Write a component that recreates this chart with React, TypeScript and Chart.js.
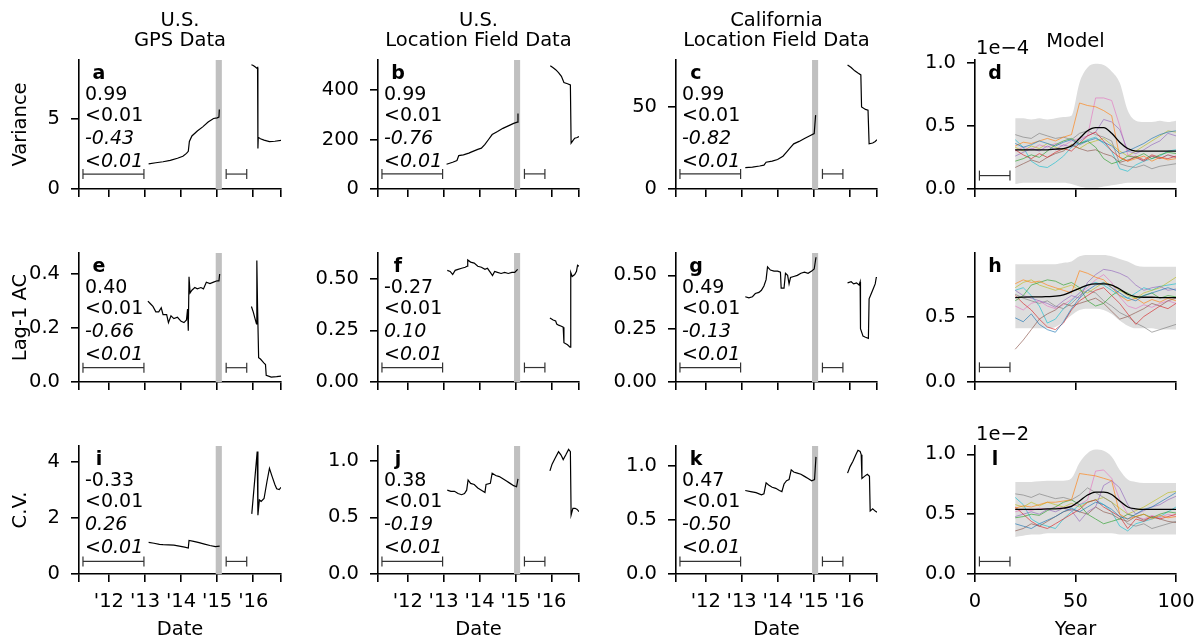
import React, { useEffect, useRef } from 'react';
import { Chart, registerables } from 'chart.js';

Chart.register(...registerables);

type Pt = [number, number];

const FONT = '"DejaVu Sans", "Noto Sans", sans-serif';
const FS = 19.5;
const FS_ANN = 19;

// ---------- ticks ----------
const dateTicks = [2011.17, 2012, 2013, 2014, 2015, 2016, 2016.77];
const dateTickLabels = ['', "'12", "'13", "'14", "'15", "'16", ''];
const modelTicks = [0, 50, 100];
const modelTickLabels = ['0', '50', '100'];

// ---------- texts ----------
const columnTitles = [['U.S.', 'GPS Data'], ['U.S.', 'Location Field Data'], ['California', 'Location Field Data'], ['Model']];
const rowTitles = ['Variance', 'Lag-1 AC', 'C.V.'];
const xTitles = ['Date', 'Date', 'Date', 'Year'];
const panelLetters = ['a', 'b', 'c', 'd', 'e', 'f', 'g', 'h', 'i', 'j', 'k', 'l'];
const statsA = ['0.99', '<0.01', '-0.43', '<0.01'];
const statsB = ['0.99', '<0.01', '-0.76', '<0.01'];
const statsC = ['0.99', '<0.01', '-0.82', '<0.01'];
const statsE = ['0.40', '<0.01', '-0.66', '<0.01'];
const statsF = ['-0.27', '<0.01', '0.10', '<0.01'];
const statsG = ['0.49', '<0.01', '-0.13', '<0.01'];
const statsI = ['-0.33', '<0.01', '0.26', '<0.01'];
const statsJ = ['0.38', '<0.01', '-0.19', '<0.01'];
const statsK = ['0.47', '<0.01', '-0.50', '<0.01'];

// ---------- windows ----------
const shadeYears = [2014.96, 2015.13];
const longWindow = [2011.28, 2012.97];
const shortWindow = [2015.25, 2015.82];
const modelWindow = [2.2, 17.4];

// ---------- y axes ----------
const yMaxes = [9.24, 521, 78.6, 1.02, 0.478, 0.624, 0.605, 0.985, 4.58, 1.13, 1.18, 1.07];
const yTickSets = [[0, 5], [0, 200, 400], [0, 50], [0, 0.5, 1.0], [0, 0.2, 0.4], [0, 0.25, 0.5], [0, 0.25, 0.5], [0, 0.5], [0, 2, 4], [0, 0.5, 1.0], [0, 0.5, 1.0], [0, 0.5, 1.0]];
const yTickLabelSets = [['0', '5'], ['0', '200', '400'], ['0', '50'], ['0.0', '0.5', '1.0'], ['0.0', '0.2', '0.4'], ['0.00', '0.25', '0.50'], ['0.00', '0.25', '0.50'], ['0.0', '0.5'], ['0', '2', '4'], ['0.0', '0.5', '1.0'], ['0.0', '0.5', '1.0'], ['0.0', '0.5', '1.0']];
const barLevels = [1.07, 61, 9.2, 0.106, 0.053, 0.07, 0.0675, 0.112, 0.45, 0.111, 0.116, 0.105];

// ---------- date series ----------
const varGps1: Pt[] = [[2013.1, 1.8], [2013.3, 1.88], [2013.5, 1.95], [2013.7, 2.05], [2013.9, 2.2], [2014.05, 2.35], [2014.15, 2.55], [2014.2, 2.7], [2014.23, 3.4], [2014.3, 3.8], [2014.45, 4.15], [2014.6, 4.45], [2014.75, 4.8], [2014.9, 5.05], [2015.0, 5.1], [2015.05, 5.15], [2015.06, 5.7]];
const varGps2: Pt[] = [[2015.95, 8.9], [2016.0, 8.85], [2016.05, 8.75], [2016.1, 8.65], [2016.12, 8.7], [2016.13, 2.9], [2016.14, 3.7], [2016.2, 3.6], [2016.3, 3.5], [2016.45, 3.4], [2016.6, 3.42], [2016.77, 3.48]];
const varUs1: Pt[] = [[2013.08, 100], [2013.25, 108], [2013.37, 115], [2013.42, 135], [2013.55, 138], [2013.7, 145], [2013.78, 150], [2013.95, 160], [2014.05, 165], [2014.15, 180], [2014.25, 200], [2014.35, 220], [2014.5, 232], [2014.65, 245], [2014.8, 255], [2014.95, 265], [2015.05, 270], [2015.07, 305]];
const varUs2: Pt[] = [[2015.97, 498], [2016.05, 490], [2016.12, 482], [2016.2, 470], [2016.28, 455], [2016.35, 430], [2016.45, 425], [2016.53, 420], [2016.55, 185], [2016.6, 195], [2016.65, 205], [2016.72, 208], [2016.77, 212]];
const varCa1: Pt[] = [[2013.1, 13], [2013.3, 13.3], [2013.5, 14], [2013.62, 14.5], [2013.68, 16.3], [2013.85, 17], [2014.0, 18], [2014.15, 20], [2014.25, 22.5], [2014.35, 25], [2014.45, 27.5], [2014.6, 29], [2014.75, 30.8], [2014.9, 32.5], [2015.02, 33.8], [2015.06, 45]];
const varCa2: Pt[] = [[2015.95, 75.5], [2016.05, 74], [2016.15, 72], [2016.25, 70.5], [2016.32, 69.5], [2016.34, 50], [2016.45, 48.5], [2016.52, 48], [2016.55, 27.5], [2016.65, 28], [2016.72, 29], [2016.77, 30]];

const acGps1: Pt[] = [[2013.08, 0.3], [2013.15, 0.29], [2013.22, 0.28], [2013.3, 0.26], [2013.38, 0.26], [2013.45, 0.275], [2013.5, 0.25], [2013.6, 0.25], [2013.65, 0.22], [2013.72, 0.245], [2013.8, 0.235], [2013.9, 0.24], [2014.0, 0.225], [2014.08, 0.22], [2014.15, 0.23], [2014.18, 0.27], [2014.2, 0.19], [2014.22, 0.39], [2014.25, 0.33], [2014.3, 0.34], [2014.38, 0.35], [2014.45, 0.345], [2014.55, 0.35], [2014.62, 0.345], [2014.7, 0.37], [2014.8, 0.365], [2014.9, 0.37], [2015.0, 0.375], [2015.05, 0.375], [2015.07, 0.4]];
const acGps2: Pt[] = [[2015.95, 0.28], [2016.0, 0.26], [2016.05, 0.235], [2016.09, 0.215], [2016.1, 0.45], [2016.12, 0.28], [2016.15, 0.09], [2016.2, 0.085], [2016.3, 0.07], [2016.34, 0.065], [2016.36, 0.025], [2016.5, 0.018], [2016.65, 0.02], [2016.77, 0.022]];
const acUs1: Pt[] = [[2013.1, 0.54], [2013.18, 0.535], [2013.25, 0.52], [2013.32, 0.54], [2013.4, 0.545], [2013.5, 0.55], [2013.6, 0.555], [2013.65, 0.56], [2013.67, 0.59], [2013.75, 0.58], [2013.85, 0.575], [2013.95, 0.56], [2014.05, 0.555], [2014.15, 0.545], [2014.22, 0.55], [2014.3, 0.53], [2014.36, 0.515], [2014.42, 0.535], [2014.5, 0.53], [2014.6, 0.525], [2014.7, 0.53], [2014.8, 0.525], [2014.9, 0.53], [2014.98, 0.53], [2015.06, 0.545]];
const acUs2: Pt[] = [[2015.96, 0.31], [2016.05, 0.3], [2016.12, 0.295], [2016.15, 0.28], [2016.2, 0.275], [2016.28, 0.27], [2016.33, 0.265], [2016.35, 0.19], [2016.45, 0.18], [2016.52, 0.168], [2016.54, 0.53], [2016.58, 0.51], [2016.65, 0.52], [2016.7, 0.535], [2016.73, 0.565], [2016.77, 0.56]];
const acCa1: Pt[] = [[2013.1, 0.4], [2013.2, 0.395], [2013.3, 0.4], [2013.38, 0.415], [2013.48, 0.42], [2013.55, 0.43], [2013.62, 0.45], [2013.68, 0.48], [2013.72, 0.54], [2013.8, 0.525], [2013.9, 0.52], [2014.0, 0.52], [2014.08, 0.515], [2014.1, 0.44], [2014.18, 0.44], [2014.22, 0.51], [2014.28, 0.5], [2014.32, 0.46], [2014.36, 0.49], [2014.45, 0.495], [2014.55, 0.5], [2014.65, 0.51], [2014.75, 0.515], [2014.85, 0.51], [2014.95, 0.52], [2015.02, 0.53], [2015.07, 0.585]];
const acCa2: Pt[] = [[2015.95, 0.465], [2016.05, 0.47], [2016.12, 0.46], [2016.2, 0.465], [2016.27, 0.455], [2016.3, 0.47], [2016.31, 0.25], [2016.38, 0.215], [2016.45, 0.21], [2016.53, 0.205], [2016.55, 0.39], [2016.6, 0.41], [2016.66, 0.435], [2016.72, 0.46], [2016.75, 0.49], [2016.77, 0.49]];

const cvGps1: Pt[] = [[2013.1, 1.13], [2013.25, 1.1], [2013.4, 1.06], [2013.5, 1.05], [2013.65, 1.04], [2013.8, 1.03], [2013.95, 1.0], [2014.1, 0.96], [2014.2, 0.93], [2014.22, 1.2], [2014.35, 1.17], [2014.5, 1.12], [2014.65, 1.07], [2014.8, 1.02], [2014.95, 0.98], [2015.07, 1.0]];
const cvGps2: Pt[] = [[2015.96, 2.15], [2016.11, 4.38], [2016.13, 2.1], [2016.17, 2.65], [2016.22, 2.6], [2016.3, 2.7], [2016.38, 3.3], [2016.45, 3.78], [2016.52, 3.5], [2016.6, 3.2], [2016.65, 3.05], [2016.72, 3.02], [2016.77, 3.1]];
const cvUs1: Pt[] = [[2013.1, 0.74], [2013.2, 0.73], [2013.3, 0.73], [2013.4, 0.71], [2013.5, 0.7], [2013.58, 0.71], [2013.64, 0.74], [2013.68, 0.83], [2013.75, 0.8], [2013.85, 0.79], [2013.95, 0.76], [2014.05, 0.74], [2014.15, 0.72], [2014.18, 0.79], [2014.3, 0.8], [2014.35, 0.89], [2014.45, 0.87], [2014.55, 0.86], [2014.65, 0.84], [2014.75, 0.82], [2014.85, 0.8], [2014.95, 0.78], [2015.03, 0.77], [2015.07, 0.84]];
const cvUs2: Pt[] = [[2015.96, 0.91], [2016.02, 0.97], [2016.1, 1.02], [2016.2, 1.08], [2016.27, 1.05], [2016.33, 1.01], [2016.4, 1.05], [2016.48, 1.1], [2016.53, 1.08], [2016.55, 0.52], [2016.6, 0.58], [2016.66, 0.58], [2016.72, 0.57], [2016.77, 0.55]];
const cvCa1: Pt[] = [[2013.1, 0.77], [2013.25, 0.76], [2013.4, 0.75], [2013.55, 0.73], [2013.62, 0.74], [2013.68, 0.84], [2013.75, 0.82], [2013.85, 0.8], [2013.95, 0.79], [2014.05, 0.77], [2014.12, 0.76], [2014.18, 0.83], [2014.25, 0.86], [2014.32, 0.87], [2014.38, 0.96], [2014.45, 0.94], [2014.55, 0.93], [2014.65, 0.92], [2014.75, 0.9], [2014.85, 0.88], [2014.95, 0.86], [2015.03, 0.87], [2015.07, 1.08]];
const cvCa2: Pt[] = [[2015.95, 0.93], [2016.02, 0.99], [2016.1, 1.04], [2016.18, 1.1], [2016.24, 1.14], [2016.3, 1.13], [2016.33, 1.1], [2016.35, 0.88], [2016.42, 0.9], [2016.5, 0.92], [2016.56, 0.9], [2016.58, 0.58], [2016.65, 0.6], [2016.72, 0.58], [2016.77, 0.57]];

// ---------- model series ----------
const modelYears = [20, 24, 28, 32, 36, 40, 44, 48, 52, 56, 60, 64, 68, 72, 76, 80, 84, 88, 92, 96, 100];
const runColors = ['#1f77b4', '#ff7f0e', '#2ca02c', '#d62728', '#9467bd', '#8c564b', '#e377c2', '#7f7f7f', '#bcbd22', '#17becf'];

const varBandLow = [0.04, 0.05, 0.05, 0.05, 0.05, 0.05, 0.05, 0.04, 0.02, 0.01, 0.01, 0.02, 0.03, 0.04, 0.05, 0.05, 0.05, 0.05, 0.05, 0.05, 0.05];
const varBandHigh = [0.56, 0.56, 0.55, 0.56, 0.55, 0.56, 0.57, 0.58, 0.84, 0.96, 0.99, 0.98, 0.93, 0.84, 0.62, 0.54, 0.53, 0.53, 0.54, 0.53, 0.54];
const varMean = [0.31, 0.31, 0.31, 0.31, 0.31, 0.315, 0.32, 0.34, 0.4, 0.46, 0.485, 0.485, 0.44, 0.37, 0.32, 0.3, 0.3, 0.3, 0.3, 0.3, 0.3];
const varRuns = [
  [0.36, 0.33, 0.35, 0.38, 0.36, 0.34, 0.37, 0.39, 0.35, 0.38, 0.4, 0.37, 0.34, 0.28, 0.3, 0.33, 0.36, 0.4, 0.43, 0.45, 0.46],
  [0.34, 0.37, 0.36, 0.38, 0.4, 0.38, 0.41, 0.43, 0.68, 0.66, 0.65, 0.62, 0.58, 0.25, 0.22, 0.24, 0.26, 0.22, 0.25, 0.23, 0.24],
  [0.22, 0.24, 0.27, 0.25, 0.3, 0.35, 0.38, 0.4, 0.36, 0.38, 0.33, 0.24, 0.2, 0.22, 0.26, 0.25, 0.28, 0.24, 0.27, 0.29, 0.28],
  [0.31, 0.27, 0.24, 0.28, 0.25, 0.29, 0.32, 0.3, 0.36, 0.42, 0.45, 0.38, 0.3, 0.25, 0.22, 0.26, 0.23, 0.27, 0.25, 0.24, 0.26],
  [0.26, 0.29, 0.32, 0.3, 0.34, 0.31, 0.35, 0.33, 0.38, 0.42, 0.45, 0.55, 0.53, 0.47, 0.3, 0.28, 0.31, 0.35, 0.38, 0.44, 0.42],
  [0.17, 0.2, 0.23, 0.21, 0.25, 0.28, 0.3, 0.35, 0.32, 0.3, 0.31, 0.28, 0.26, 0.21, 0.23, 0.25, 0.22, 0.26, 0.24, 0.27, 0.25],
  [0.3, 0.33, 0.31, 0.35, 0.33, 0.36, 0.34, 0.38, 0.4, 0.42, 0.72, 0.72, 0.7, 0.5, 0.27, 0.25, 0.22, 0.26, 0.24, 0.27, 0.25],
  [0.43, 0.41, 0.4, 0.44, 0.42, 0.4, 0.41, 0.39, 0.44, 0.46, 0.43, 0.41, 0.38, 0.2, 0.18, 0.17, 0.19, 0.16, 0.18, 0.19, 0.2],
  [0.33, 0.3, 0.34, 0.32, 0.36, 0.33, 0.31, 0.35, 0.32, 0.36, 0.38, 0.4, 0.35, 0.3, 0.26, 0.3, 0.34, 0.38, 0.42, 0.46, 0.45],
  [0.39, 0.33, 0.22, 0.18, 0.17, 0.21, 0.26, 0.33, 0.36, 0.39, 0.41, 0.36, 0.3, 0.16, 0.14, 0.19, 0.22, 0.24, 0.26, 0.3, 0.31],
];

const acBandLow = [0.41, 0.41, 0.41, 0.41, 0.41, 0.42, 0.46, 0.51, 0.55, 0.56, 0.56, 0.55, 0.52, 0.47, 0.43, 0.41, 0.41, 0.41, 0.4, 0.4, 0.4];
const acBandHigh = [0.9, 0.9, 0.9, 0.9, 0.9, 0.9, 0.91, 0.92, 0.96, 0.97, 0.97, 0.97, 0.96, 0.94, 0.92, 0.89, 0.88, 0.88, 0.88, 0.88, 0.88];
const acMean = [0.645, 0.648, 0.65, 0.65, 0.652, 0.655, 0.665, 0.69, 0.715, 0.74, 0.75, 0.75, 0.74, 0.71, 0.67, 0.652, 0.647, 0.647, 0.645, 0.645, 0.645];
const acRuns = [
  [0.49, 0.46, 0.52, 0.44, 0.4, 0.38, 0.46, 0.56, 0.64, 0.7, 0.74, 0.76, 0.72, 0.68, 0.64, 0.62, 0.66, 0.68, 0.7, 0.72, 0.7],
  [0.75, 0.78, 0.76, 0.77, 0.74, 0.72, 0.7, 0.68, 0.85, 0.83, 0.8, 0.78, 0.72, 0.66, 0.62, 0.64, 0.6, 0.63, 0.61, 0.64, 0.62],
  [0.62, 0.66, 0.74, 0.76, 0.78, 0.77, 0.74, 0.76, 0.72, 0.62, 0.58, 0.6, 0.66, 0.7, 0.68, 0.64, 0.66, 0.68, 0.64, 0.66, 0.65],
  [0.66, 0.6, 0.55, 0.48, 0.42, 0.4, 0.45, 0.55, 0.62, 0.66, 0.7, 0.72, 0.66, 0.6, 0.52, 0.44, 0.5, 0.54, 0.58, 0.56, 0.6],
  [0.7, 0.66, 0.64, 0.62, 0.6, 0.57, 0.62, 0.66, 0.64, 0.76, 0.82, 0.86, 0.85, 0.83, 0.8, 0.74, 0.7, 0.72, 0.73, 0.7, 0.71],
  [0.25, 0.32, 0.4, 0.48, 0.52, 0.55, 0.6, 0.58, 0.6, 0.62, 0.64, 0.6, 0.54, 0.48, 0.5, 0.53, 0.56, 0.6, 0.58, 0.62, 0.64],
  [0.58, 0.55, 0.6, 0.62, 0.58, 0.56, 0.59, 0.63, 0.68, 0.72, 0.78, 0.82, 0.76, 0.65, 0.58, 0.56, 0.59, 0.57, 0.6, 0.62, 0.6],
  [0.67, 0.64, 0.62, 0.6, 0.62, 0.58, 0.56, 0.6, 0.66, 0.7, 0.68, 0.62, 0.58, 0.53, 0.5, 0.45, 0.42, 0.38, 0.4, 0.42, 0.44],
  [0.72, 0.76, 0.78, 0.74, 0.72, 0.7, 0.72, 0.74, 0.7, 0.68, 0.72, 0.76, 0.74, 0.7, 0.66, 0.64, 0.68, 0.7, 0.72, 0.76, 0.8],
  [0.7, 0.72, 0.66, 0.58, 0.45, 0.48, 0.56, 0.62, 0.68, 0.74, 0.76, 0.74, 0.7, 0.66, 0.64, 0.68, 0.72, 0.7, 0.73, 0.74, 0.75],
];

const cvBandLow = [0.31, 0.32, 0.33, 0.33, 0.34, 0.34, 0.34, 0.34, 0.34, 0.34, 0.34, 0.34, 0.34, 0.33, 0.33, 0.33, 0.33, 0.33, 0.33, 0.33, 0.33];
const cvBandHigh = [0.77, 0.77, 0.77, 0.775, 0.78, 0.78, 0.78, 0.8, 0.93, 1.01, 1.04, 1.03, 0.98, 0.87, 0.79, 0.77, 0.76, 0.76, 0.76, 0.76, 0.76];
const cvMean = [0.54, 0.54, 0.54, 0.54, 0.545, 0.545, 0.55, 0.565, 0.61, 0.66, 0.685, 0.685, 0.665, 0.61, 0.56, 0.545, 0.54, 0.54, 0.54, 0.54, 0.54];
const cvRuns = [
  [0.42, 0.4, 0.38, 0.42, 0.45, 0.48, 0.52, 0.55, 0.52, 0.56, 0.6, 0.58, 0.54, 0.48, 0.46, 0.5, 0.54, 0.56, 0.6, 0.64, 0.68],
  [0.55, 0.57, 0.56, 0.58, 0.6, 0.6, 0.61, 0.62, 0.84, 0.83, 0.82, 0.8, 0.78, 0.5, 0.46, 0.48, 0.5, 0.46, 0.49, 0.47, 0.48],
  [0.47, 0.48, 0.5, 0.49, 0.53, 0.56, 0.6, 0.62, 0.58, 0.5, 0.46, 0.42, 0.44, 0.46, 0.5, 0.48, 0.5, 0.47, 0.5, 0.52, 0.51],
  [0.56, 0.5, 0.44, 0.4, 0.38, 0.42, 0.46, 0.5, 0.54, 0.6, 0.62, 0.56, 0.52, 0.48, 0.38, 0.46, 0.44, 0.48, 0.46, 0.48, 0.5],
  [0.48, 0.5, 0.52, 0.5, 0.54, 0.52, 0.55, 0.53, 0.44, 0.52, 0.56, 0.74, 0.78, 0.72, 0.58, 0.5, 0.53, 0.56, 0.58, 0.62, 0.65],
  [0.36, 0.38, 0.42, 0.4, 0.44, 0.48, 0.52, 0.54, 0.52, 0.5, 0.56, 0.52, 0.5, 0.46, 0.44, 0.48, 0.45, 0.48, 0.46, 0.44, 0.43],
  [0.52, 0.54, 0.53, 0.55, 0.54, 0.56, 0.55, 0.57, 0.58, 0.62, 0.86, 0.87, 0.8, 0.62, 0.5, 0.48, 0.46, 0.49, 0.47, 0.5, 0.48],
  [0.67, 0.66, 0.64, 0.67, 0.65, 0.63, 0.64, 0.62, 0.66, 0.72, 0.68, 0.64, 0.6, 0.5, 0.42, 0.4, 0.42, 0.38, 0.4, 0.42, 0.44],
  [0.58, 0.56, 0.6, 0.57, 0.6, 0.58, 0.56, 0.59, 0.56, 0.6, 0.62, 0.64, 0.6, 0.55, 0.5, 0.53, 0.56, 0.6, 0.64, 0.68, 0.69],
  [0.64, 0.58, 0.46, 0.42, 0.4, 0.38, 0.46, 0.52, 0.58, 0.6, 0.62, 0.58, 0.52, 0.4, 0.36, 0.42, 0.44, 0.46, 0.48, 0.52, 0.56],
];

// ---------- layout (pixels) ----------
const colLeft = [79, 378, 676, 975];
const colWidth = [202, 201, 201, 201];
const rowTop = [60, 253, 446];
const rowHeight = [129, 129, 128];

interface PanelCfg {
  idx: number;
  row: number;
  col: number;
  segments?: Pt[][];
  band?: number[][];
  mean?: number[];
  runs?: number[][];
  stats?: string[];
  offsetLabel?: string;
}

const panels: PanelCfg[] = [
  { idx: 0, row: 0, col: 0, segments: [varGps1, varGps2], stats: statsA },
  { idx: 1, row: 0, col: 1, segments: [varUs1, varUs2], stats: statsB },
  { idx: 2, row: 0, col: 2, segments: [varCa1, varCa2], stats: statsC },
  { idx: 3, row: 0, col: 3, band: [varBandLow, varBandHigh], mean: varMean, runs: varRuns, offsetLabel: '1e\u22124' },
  { idx: 4, row: 1, col: 0, segments: [acGps1, acGps2], stats: statsE },
  { idx: 5, row: 1, col: 1, segments: [acUs1, acUs2], stats: statsF },
  { idx: 6, row: 1, col: 2, segments: [acCa1, acCa2], stats: statsG },
  { idx: 7, row: 1, col: 3, band: [acBandLow, acBandHigh], mean: acMean, runs: acRuns },
  { idx: 8, row: 2, col: 0, segments: [cvGps1, cvGps2], stats: statsI },
  { idx: 9, row: 2, col: 1, segments: [cvUs1, cvUs2], stats: statsJ },
  { idx: 10, row: 2, col: 2, segments: [cvCa1, cvCa2], stats: statsK },
  { idx: 11, row: 2, col: 3, band: [cvBandLow, cvBandHigh], mean: cvMean, runs: cvRuns, offsetLabel: '1e\u22122' },
];

function geometry(p: PanelCfg) {
  const padTop = p.row === 0 ? 60 : 40;
  const xH = p.row === 2 ? 642 - (rowTop[2] + rowHeight[2]) : 34;
  const padRight = 30;
  const cx = colLeft[p.col] - 79;
  const cy = rowTop[p.row] - padTop;
  const cw = 79 + colWidth[p.col] + padRight;
  const ch = padTop + rowHeight[p.row] + xH;
  return { padTop, xH, padRight, cx, cy, cw, ch };
}

function makeDecor(p: PanelCfg) {
  return {
    id: 'decor',
    beforeDatasetsDraw(chart: any) {
      if (!p.segments) return;
      const { ctx, chartArea, scales } = chart;
      const x0 = scales.x.getPixelForValue(shadeYears[0]);
      const x1 = scales.x.getPixelForValue(shadeYears[1]);
      ctx.save();
      ctx.fillStyle = '#c0c0c0';
      ctx.fillRect(x0, chartArea.top, x1 - x0, chartArea.bottom - chartArea.top);
      ctx.restore();
    },
    afterDraw(chart: any) {
      const { ctx, chartArea } = chart;
      const { left, top, right } = chartArea;
      ctx.save();
      ctx.fillStyle = '#000';
      ctx.textBaseline = 'alphabetic';
      const big = `${FS}px ${FONT}`;
      const normal = `${FS_ANN}px ${FONT}`;
      const italic = `italic ${FS_ANN}px ${FONT}`;
      if (p.row === 0) {
        ctx.font = big;
        ctx.textAlign = 'center';
        const t = columnTitles[p.col];
        const cx = (left + right) / 2;
        if (t.length === 2) {
          ctx.fillText(t[0], cx, 25.5);
          ctx.fillText(t[1], cx, 45.5);
        } else {
          ctx.fillText(t[0], cx, 47);
        }
      }
      if (p.offsetLabel) {
        ctx.font = big;
        ctx.textAlign = 'left';
        ctx.fillText(p.offsetLabel, left + 1, top - 6.5);
      }
      ctx.font = `bold ${FS_ANN}px ${FONT}`;
      ctx.textAlign = 'center';
      ctx.fillText(panelLetters[p.idx], left + 20, top + 18.5);
      if (p.stats) {
        const sx = left + 6;
        ctx.textAlign = 'left';
        ctx.font = normal;
        ctx.fillText(p.stats[0], sx, top + 40);
        ctx.fillText(p.stats[1], sx, top + 60.5);
        ctx.font = italic;
        ctx.fillText(p.stats[2], sx, top + 84);
        ctx.font = normal;
        const lt = p.stats[3].slice(0, 1);
        ctx.fillText(lt, sx, top + 107);
        const w = ctx.measureText(lt).width;
        ctx.font = italic;
        ctx.fillText(p.stats[3].slice(1), sx + w, top + 107);
      }
      ctx.restore();
    },
  };
}

function barDataset(xs: number[], y: number) {
  return {
    data: [{ x: xs[0], y }, { x: xs[1], y }],
    borderColor: '#333',
    borderWidth: 1.2,
    pointStyle: 'line',
    pointRotation: 90,
    pointRadius: 5,
    pointHoverRadius: 5,
    pointBorderWidth: 1.2,
    pointBorderColor: '#333',
    order: 0,
  };
}

function makeConfig(p: PanelCfg) {
  const g = geometry(p);
  const isDate = !!p.segments;
  const datasets: any[] = [];
  if (isDate) {
    p.segments!.forEach((s) => {
      datasets.push({
        data: s.map(([x, y]) => ({ x, y })),
        borderColor: '#000',
        borderWidth: 1.2,
        pointRadius: 0,
        tension: 0,
        order: 1,
      });
    });
    datasets.push(barDataset(longWindow, barLevels[p.idx]));
    datasets.push(barDataset(shortWindow, barLevels[p.idx]));
  } else {
    const [lo, hi] = p.band!;
    datasets.push({
      data: modelYears.map((x, i) => ({ x, y: lo[i] })),
      borderWidth: 0,
      borderColor: 'rgba(0,0,0,0)',
      pointRadius: 0,
      fill: false,
      cubicInterpolationMode: 'monotone',
      order: 5,
    });
    datasets.push({
      data: modelYears.map((x, i) => ({ x, y: hi[i] })),
      borderWidth: 0,
      borderColor: 'rgba(0,0,0,0)',
      backgroundColor: '#dddddd',
      pointRadius: 0,
      fill: '-1',
      cubicInterpolationMode: 'monotone',
      order: 5,
    });
    p.runs!.forEach((r, k) => {
      datasets.push({
        data: modelYears.map((x, i) => ({ x, y: r[i] })),
        borderColor: runColors[k] + 'a6',
        borderWidth: 1,
        pointRadius: 0,
        tension: 0,
        order: 3,
      });
    });
    datasets.push({
      data: modelYears.map((x, i) => ({ x, y: p.mean![i] })),
      borderColor: '#000',
      borderWidth: 1.3,
      pointRadius: 0,
      cubicInterpolationMode: 'monotone',
      order: 1,
    });
    datasets.push(barDataset(modelWindow, barLevels[p.idx]));
  }

  const font = { family: FONT, size: FS, lineHeight: 1.2 };
  const xTickVals = isDate ? dateTicks : modelTicks;
  const xTickLabels = isDate ? dateTickLabels : modelTickLabels;
  const yVals = yTickSets[p.idx];
  const yLabels = yTickLabelSets[p.idx];
  const grid = { display: true, drawOnChartArea: false, drawTicks: true, tickLength: 8, color: '#000', lineWidth: 1.6, tickWidth: 1.6 };
  const border = { display: true, color: '#000', width: 1.6 };

  return {
    type: 'line',
    data: { datasets },
    options: {
      responsive: false,
      animation: false,
      devicePixelRatio: 1,
      events: [],
      layout: { padding: { left: 0, top: g.padTop, right: g.padRight, bottom: 0 } },
      plugins: { legend: { display: false }, tooltip: { enabled: false }, title: { display: false } },
      scales: {
        x: {
          type: 'linear',
          min: isDate ? dateTicks[0] : 0,
          max: isDate ? dateTicks[dateTicks.length - 1] : 100,
          grid,
          border,
          ticks: {
            display: p.row === 2,
            autoSkip: false,
            maxRotation: 0,
            minRotation: 0,
            padding: 8,
            font,
            color: '#000',
            callback: (_v: any, i: number) => xTickLabels[i] ?? '',
          },
          afterBuildTicks: (s: any) => {
            s.ticks = xTickVals.map((v) => ({ value: v }));
          },
          afterFit: (s: any) => {
            s.height = g.xH;
          },
          title: { display: p.row === 2, text: xTitles[p.col], font, color: '#000', padding: { top: 0, bottom: 0 } },
        },
        y: {
          type: 'linear',
          min: 0,
          max: yMaxes[p.idx],
          grid,
          border,
          ticks: {
            autoSkip: false,
            padding: 11,
            font,
            color: '#000',
            callback: (_v: any, i: number) => yLabels[i] ?? '',
          },
          afterBuildTicks: (s: any) => {
            s.ticks = yVals.map((v) => ({ value: v }));
          },
          afterFit: (s: any) => {
            s.width = 79;
          },
          title: { display: p.col === 0, text: rowTitles[p.row], font, color: '#000', padding: { top: 8.8, bottom: 0 } },
        },
      },
    },
    plugins: [makeDecor(p)],
  };
}

function Panel({ p }: { p: PanelCfg }) {
  const ref = useRef<HTMLCanvasElement>(null);
  const g = geometry(p);
  useEffect(() => {
    const chart = new Chart(ref.current as HTMLCanvasElement, makeConfig(p) as any);
    return () => chart.destroy();
  }, [p]);
  return (
    <canvas
      ref={ref}
      width={g.cw}
      height={g.ch}
      style={{ position: 'absolute', left: g.cx, top: g.cy, width: g.cw, height: g.ch }}
    />
  );
}

export default function App() {
  return (
    <div style={{ position: 'absolute', left: 0, top: 0, width: 1203, height: 641, overflow: 'hidden', background: '#fff' }}>
      {panels.map((p) => (
        <Panel key={p.idx} p={p} />
      ))}
    </div>
  );
}
